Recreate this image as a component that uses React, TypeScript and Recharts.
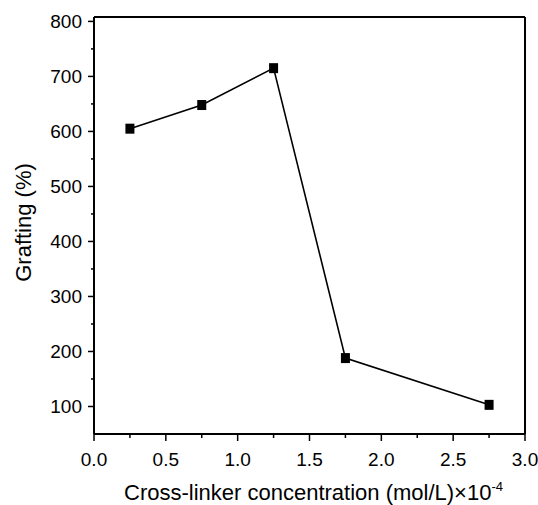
import React from "react";
import {
  LineChart,
  Line,
  XAxis,
  YAxis,
  ReferenceLine,
  Label,
} from "recharts";

// Cross-linker concentration (×10⁻⁴ mol/L) and measured grafting (%)
const concentration = [0.25, 0.75, 1.25, 1.75, 2.75];
const grafting = [605, 648, 715, 188, 103];

const xTicks = [0, 0.25, 0.5, 0.75, 1, 1.25, 1.5, 1.75, 2, 2.25, 2.5, 2.75, 3];
const xMajor = [0, 0.5, 1, 1.5, 2, 2.5, 3];
const yTicks = [100, 150, 200, 250, 300, 350, 400, 450, 500, 550, 600, 650, 700, 750, 800];
const yMajor = [100, 200, 300, 400, 500, 600, 700, 800];

const data = concentration.map((c, i) => ({ c, g: grafting[i] }));

const FONT = "'Liberation Sans', Arial, sans-serif";

const XTick = (props: any) => {
  const { x, y, payload } = props;
  const major = xMajor.some((v) => Math.abs(v - payload.value) < 1e-6);
  return (
    <g>
      <line x1={x} x2={x} y1={y} y2={y + (major ? 7 : 4)} stroke="#000" strokeWidth={1.5} />
      {major && (
        <text x={x} y={y + 31.5} textAnchor="middle" fontSize={19} fontFamily={FONT} fill="#000">
          {payload.value.toFixed(1)}
        </text>
      )}
    </g>
  );
};

const YTick = (props: any) => {
  const { x, y, payload } = props;
  const major = yMajor.includes(payload.value);
  return (
    <g>
      <line x1={x - (major ? 6 : 3)} x2={x} y1={y} y2={y} stroke="#000" strokeWidth={1.5} />
      {major && (
        <text x={x - 12} y={y + 7} textAnchor="end" fontSize={19} fontFamily={FONT} fill="#000">
          {payload.value}
        </text>
      )}
    </g>
  );
};

const Square = (props: any) => {
  const { cx, cy } = props;
  if (cx == null || cy == null) return null;
  return <rect x={cx - 4.5} y={cy - 5} width={9} height={10} fill="#000" />;
};

const XTitle = (props: any) => {
  const vb = props.viewBox;
  const cx = vb.x + vb.width / 2 + 4;
  return (
    <text x={cx} y={500} textAnchor="middle" fontSize={22} fontFamily={FONT} fill="#000">
      Cross-linker concentration (mol/L)×10
      <tspan fontSize={13} dy={-9}>-4</tspan>
    </text>
  );
};

const YTitle = (props: any) => {
  const vb = props.viewBox;
  const cy = vb.y + vb.height / 2 - 3;
  return (
    <text
      x={31}
      y={cy}
      transform={`rotate(-90 31 ${cy})`}
      textAnchor="middle"
      fontSize={22}
      fontFamily={FONT}
      fill="#000"
    >
      Grafting (%)
    </text>
  );
};

export default function App() {
  return (
    <div style={{ width: 538, height: 505, background: "#fff" }}>
      <style>{`body{margin:0;background:#fff}`}</style>
      <LineChart
        width={538}
        height={505}
        data={data}
        margin={{ top: 17, right: 13, bottom: 0, left: 0 }}
      >
        <XAxis
          dataKey="c"
          type="number"
          domain={[0, 3]}
          ticks={xTicks}
          interval={0}
          tickSize={0}
          tickMargin={0}
          tickLine={false}
          tick={<XTick />}
          axisLine={{ stroke: "#000", strokeWidth: 2 }}
          height={71}
        >
          <Label content={<XTitle />} />
        </XAxis>
        <YAxis
          type="number"
          domain={[50, 808]}
          ticks={yTicks}
          interval={0}
          tickSize={0}
          tickMargin={0}
          tickLine={false}
          tick={<YTick />}
          axisLine={{ stroke: "#000", strokeWidth: 2 }}
          width={94}
          allowDataOverflow
        >
          <Label content={<YTitle />} />
        </YAxis>
        <ReferenceLine y={808} stroke="#000" strokeWidth={2} />
        <ReferenceLine x={3} stroke="#000" strokeWidth={2} />
        <Line
          dataKey="g"
          type="linear"
          stroke="#000"
          strokeWidth={1.6}
          dot={<Square />}
          activeDot={false}
          isAnimationActive={false}
        />
      </LineChart>
    </div>
  );
}
